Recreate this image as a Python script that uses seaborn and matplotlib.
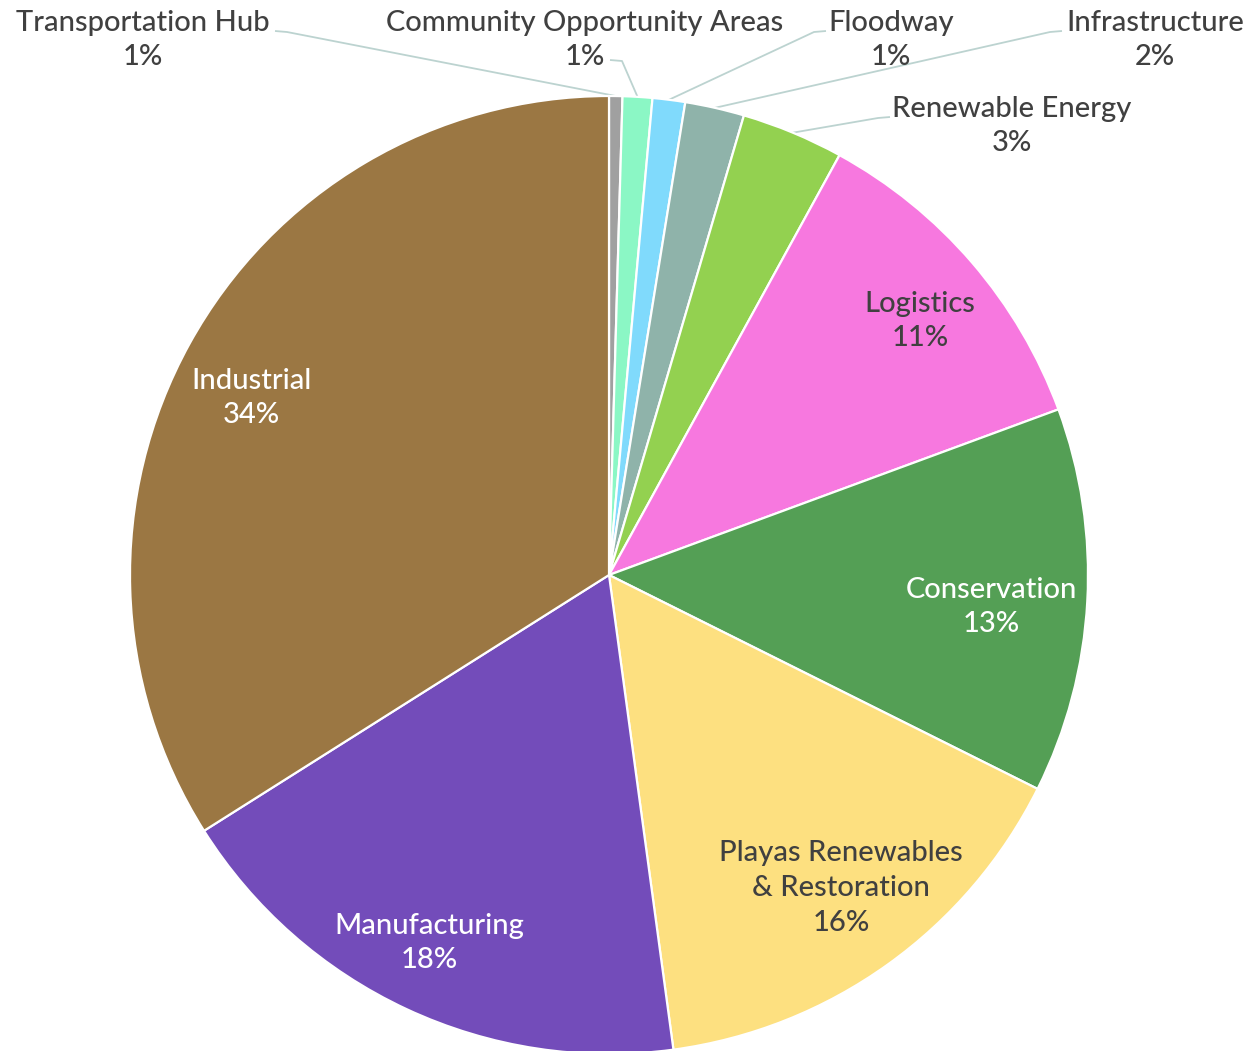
import numpy as np
import pandas as pd
import seaborn as sns
import matplotlib
matplotlib.use("Agg")
import matplotlib.pyplot as plt

sns.set_theme(style="white")
plt.rcParams['font.family'] = ['Lato', 'DejaVu Sans']

# slices, clockwise from 12 o'clock
categories = ["Transportation Hub", "Community Opportunity Areas", "Floodway",
              "Infrastructure", "Renewable Energy", "Logistics", "Conservation",
              "Playas Renewables\n& Restoration", "Manufacturing", "Industrial"]
shares = [0.45, 1.0, 1.1, 2.0, 3.45, 11.4, 13.0, 15.5, 18.2, 34.0]
pct_labels = ["1%", "1%", "1%", "2%", "3%", "11%", "13%", "16%", "18%", "34%"]
colors = ["#a0a0a0", "#8bf7c5", "#80dafc", "#8fb3aa", "#93d150",
          "#f778df", "#549f55", "#fde080", "#734cba", "#9b7743"]

df = pd.DataFrame({"category": categories, "share": shares,
                   "pct": pct_labels, "color": colors})

W, H = 1253, 1051
CX, CY, R = 609, 575, 479


def px(x, y):
    # pixel position -> data coords (pie centre 0,0, radius 1)
    return (x - CX) / R, (CY - y) / R


fig = plt.figure(figsize=(W / 100, H / 100), dpi=100)
ax = fig.add_axes([0, 0, 1, 1])

wedges, _ = ax.pie(df["share"], colors=df["color"], startangle=90,
                   counterclock=False, radius=1,
                   wedgeprops=dict(edgecolor="white", linewidth=1.6))
ax.set_xlim(-CX / R, (W - CX) / R)
ax.set_ylim(-(H - CY) / R, CY / R)
ax.axis("off")

dark = "#404040"
fs = 21
ls = 1.42
fw = "medium"

# labels inside the big slices: (text centre in px, colour)
inner = {"Logistics": ((920, 321), dark),
         "Conservation": ((991, 607), "white"),
         "Playas Renewables\n& Restoration": ((841, 888), dark),
         "Manufacturing": ((429, 943), "white"),
         "Industrial": ((251, 398), "white")}
for _, row in df.iterrows():
    if row["category"] in inner:
        (tx, ty), c = inner[row["category"]]
        ax.text(*px(tx, ty), row["category"] + "\n" + row["pct"],
                ha="center", va="center", color=c, fontsize=fs,
                linespacing=ls, fontweight=fw)

# outer labels with connectors: text centre, connector start at label, side
outer = {
    "Transportation Hub": ((143, 40), (275, 31), 1),
    "Community Opportunity Areas": ((585, 40), (610, 60), 1),
    "Floodway": ((891, 40), (826, 31), -1),
    "Infrastructure": ((1155, 40), (1062, 31), -1),
    "Renewable Energy": ((1012, 126), (890, 117), -1),
}
for w, (_, row) in zip(wedges, df.iterrows()):
    if row["category"] in outer:
        (tx, ty), (lx, ly), side = outer[row["category"]]
        ax.text(*px(tx, ty), row["category"] + "\n" + row["pct"],
                ha="center", va="center", color=dark, fontsize=fs,
                linespacing=ls, fontweight=fw)
        mid = np.deg2rad((w.theta1 + w.theta2) / 2)
        ex, ey = np.cos(mid), np.sin(mid)
        x0, y0 = px(lx, ly)
        x1, y1 = px(lx + side * 12, ly + 1)
        ax.plot([x0, x1, ex], [y0, y1, ey], color="#bcd3d0", lw=1.3,
                solid_capstyle="butt", zorder=0)

fig.savefig("out.png", dpi=100)
